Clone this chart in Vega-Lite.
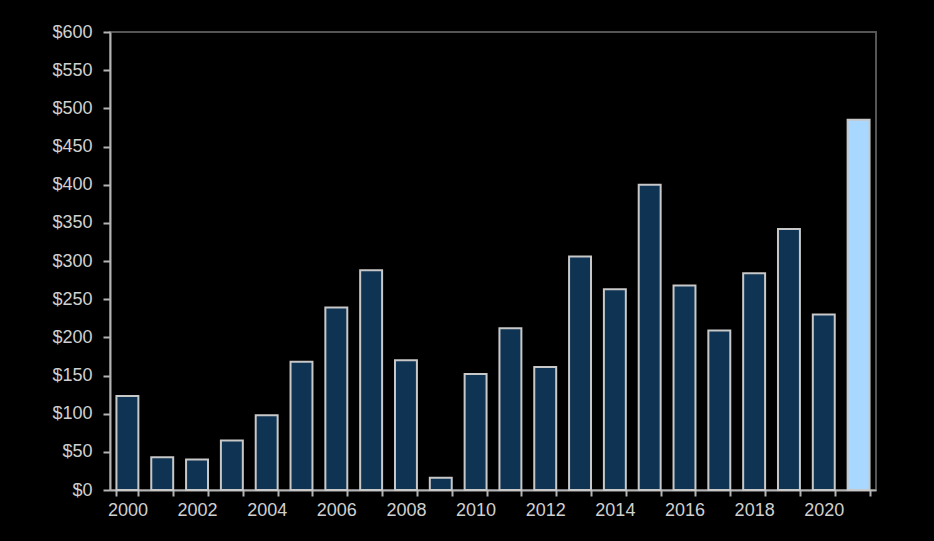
{
  "$schema": "https://vega.github.io/schema/vega-lite/v6.json",
  "width": 766,
  "height": 458,
  "autosize": "none",
  "padding": {"left": 110, "top": 32, "right": 58, "bottom": 51},
  "background": "#000000",
  "config": {
    "view": {"stroke": "#555555", "strokeWidth": 2},
    "font": "Liberation Sans"
  },
  "data": {
    "values": [
      {"year": 2000, "value": 123, "kind": "actual"},
      {"year": 2001, "value": 43, "kind": "actual"},
      {"year": 2002, "value": 40, "kind": "actual"},
      {"year": 2003, "value": 65, "kind": "actual"},
      {"year": 2004, "value": 98, "kind": "actual"},
      {"year": 2005, "value": 168, "kind": "actual"},
      {"year": 2006, "value": 239, "kind": "actual"},
      {"year": 2007, "value": 288, "kind": "actual"},
      {"year": 2008, "value": 170, "kind": "actual"},
      {"year": 2009, "value": 16, "kind": "actual"},
      {"year": 2010, "value": 152, "kind": "actual"},
      {"year": 2011, "value": 212, "kind": "actual"},
      {"year": 2012, "value": 161, "kind": "actual"},
      {"year": 2013, "value": 306, "kind": "actual"},
      {"year": 2014, "value": 263, "kind": "actual"},
      {"year": 2015, "value": 400, "kind": "actual"},
      {"year": 2016, "value": 268, "kind": "actual"},
      {"year": 2017, "value": 209, "kind": "actual"},
      {"year": 2018, "value": 284, "kind": "actual"},
      {"year": 2019, "value": 342, "kind": "actual"},
      {"year": 2020, "value": 230, "kind": "actual"},
      {"year": 2021, "value": 485, "kind": "projected"}
    ]
  },
  "mark": {"type": "bar", "stroke": "#c8c8c8", "strokeWidth": 2},
  "encoding": {
    "x": {
      "field": "year",
      "type": "ordinal",
      "scale": {"paddingInner": 0.37, "paddingOuter": 0.185},
      "axis": {
        "title": null,
        "labelAngle": 0,
        "tickBand": "extent",
        "labelExpr": "datum.value % 2 == 0 ? datum.label : ''",
        "labelColor": "#d0d0d0",
        "labelFontSize": 18,
        "labelPadding": 5,
        "labelFont": "Liberation Sans",
        "domainColor": "#b4b4b4",
        "domainWidth": 2,
        "tickColor": "#b4b4b4",
        "tickWidth": 2,
        "tickSize": 6,
        "grid": false
      }
    },
    "y": {
      "field": "value",
      "type": "quantitative",
      "scale": {"domain": [0, 600]},
      "axis": {
        "title": null,
        "values": [0, 50, 100, 150, 200, 250, 300, 350, 400, 450, 500, 550, 600],
        "labelExpr": "'$' + datum.value",
        "labelColor": "#d0d0d0",
        "labelFontSize": 18,
        "labelPadding": 11,
        "labelFont": "Liberation Sans",
        "domainColor": "#b4b4b4",
        "domainWidth": 2,
        "tickColor": "#b4b4b4",
        "tickWidth": 2,
        "tickSize": 7,
        "grid": false
      }
    },
    "color": {
      "field": "kind",
      "type": "nominal",
      "scale": {"domain": ["actual", "projected"], "range": ["#0f3352", "#a8d8ff"]},
      "legend": null
    }
  }
}
